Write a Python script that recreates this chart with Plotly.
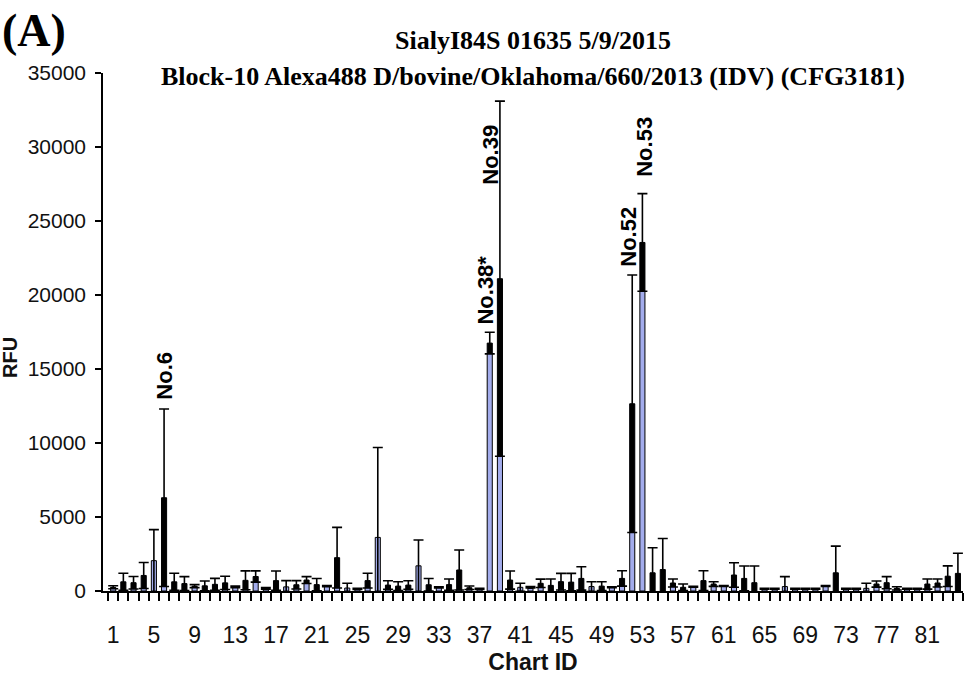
import plotly.graph_objects as go
import numpy as np

chart_id = list(range(1, 85))
rfu = [250, 620, 560, 1050, 2050, 6300, 620, 500, 330, 350,
       450, 550, 280, 720, 980, 180, 700, 280, 420, 740,
       430, 330, 2250, 200, 150, 700, 3620, 400, 330, 400,
       1700, 420, 250, 430, 1420, 220, 150, 16750, 21100, 740,
       250, 250, 520, 380, 630, 600, 850, 300, 330, 250,
       850, 12650, 23550, 1230, 1450, 540, 250, 290, 700, 470,
       340, 1080, 850, 560, 150, 150, 300, 150, 150, 150,
       340, 1230, 150, 150, 180, 470, 560, 180, 150, 150,
       470, 540, 1000, 1190]
err = [100, 580, 420, 880, 2100, 6000, 580, 470, 100, 330,
       400, 450, 50, 640, 380, 50, 650, 420, 280, 230,
       410, 40, 2050, 320, 40, 500, 6080, 290, 300, 290,
       1750, 420, 40, 380, 1350, 120, 40, 730, 12000, 610,
       270, 50, 280, 430, 560, 590, 790, 330, 300, 30,
       520, 8700, 3300, 1690, 2100, 270, 220, 30, 670, 160,
       30, 830, 840, 1130, 30, 30, 670, 30, 30, 30,
       30, 1800, 30, 30, 340, 210, 410, 110, 30, 30,
       340, 270, 700, 1360]
tick_labels = list(range(1, 82, 4))
labels = [("No.6", 6, 0.0, 500), ("No.38*", 38, -0.4, 400), ("No.39", 39, -0.9, -5800),
          ("No.52", 52, -0.45, 400), ("No.53", 53, 0.25, 1000)]

v = np.array(rfu, dtype=float)
e = np.array(err, dtype=float)
# dark (error-overlapped) part of each bar
dark = (v > e) | ((v > 350) & (v < 1500))
dark_base = np.where(v > e, v - e, 0)
dark_base = np.where(dark, dark_base, 0)
dark_h = np.where(dark, v - dark_base, 0)

fig = go.Figure()
fig.add_trace(go.Bar(
    x=chart_id, y=rfu, width=0.5,
    marker=dict(color="#a3acec", line=dict(color="black", width=1)),
    error_y=dict(type="data", array=err, color="black", thickness=1.6, width=5),
))
fig.add_trace(go.Bar(
    x=chart_id, y=dark_h, base=dark_base, width=0.5,
    marker=dict(color="black", line=dict(width=0)),
))

anns = []
for txt, cid, dx, dy in labels:
    i = chart_id.index(cid)
    anns.append(dict(x=cid + dx, y=rfu[i] + err[i] + dy, text=txt, textangle=-90,
                     showarrow=False, xanchor="center", yanchor="bottom",
                     font=dict(family="Liberation Sans", size=22, color="black", weight="bold")))

serif = "Liberation Serif"
anns.append(dict(xref="paper", yref="paper", x=-0.12, y=1.083, text="<b>(A)</b>", showarrow=False,
                 xanchor="left", yanchor="middle", font=dict(family=serif, size=46, color="black")))
anns.append(dict(xref="paper", yref="paper", x=0.5, y=1.062, text="<b>SialyI84S 01635 5/9/2015</b>",
                 showarrow=False, xanchor="center", yanchor="middle",
                 font=dict(family=serif, size=26, color="black")))
anns.append(dict(xref="paper", yref="paper", x=0.5, y=0.994,
                 text="<b>Block-10 Alexa488 D/bovine/Oklahoma/660/2013 (IDV) (CFG3181)</b>",
                 showarrow=False, xanchor="center", yanchor="middle",
                 font=dict(family=serif, size=26, color="black")))
anns.append(dict(xref="paper", yref="paper", x=-0.108, y=0.45, text="<b>RFU</b>", textangle=-90,
                 showarrow=False, xanchor="center", yanchor="middle",
                 font=dict(family="Liberation Sans", size=20, color="#111")))

fig.update_layout(
    width=964, height=692,
    margin=dict(l=103, r=1, t=73, b=101),
    paper_bgcolor="white", plot_bgcolor="white",
    barmode="overlay", showlegend=False,
    annotations=anns,
    font=dict(family="Liberation Sans", color="#111"),
)
fig.update_xaxes(
    range=[0, 84.5], tickmode="array", tickvals=tick_labels, ticktext=[str(t) for t in tick_labels],
    ticks="outside", ticklen=8, tickcolor="rgba(0,0,0,0)", ticklabelstandoff=14,
    tickfont=dict(size=23, color="#111"),
    minor=dict(tickmode="linear", tick0=0.5, dtick=1, ticks="outside", ticklen=8, tickcolor="black", tickwidth=1.5),
    showline=True, linecolor="black", linewidth=2, showgrid=False, zeroline=False,
    title=dict(text="<b>Chart ID</b>", font=dict(size=23, color="#111"), standoff=7),
)
fig.update_yaxes(
    range=[0, 35000], dtick=5000, tickformat="d",
    ticks="outside", ticklen=6, tickcolor="black", tickwidth=1.5,
    tickfont=dict(size=21, color="#111"), ticklabelstandoff=5,
    showline=True, linecolor="black", linewidth=1.5, showgrid=False, zeroline=False,
)

fig.write_html("out.html")
